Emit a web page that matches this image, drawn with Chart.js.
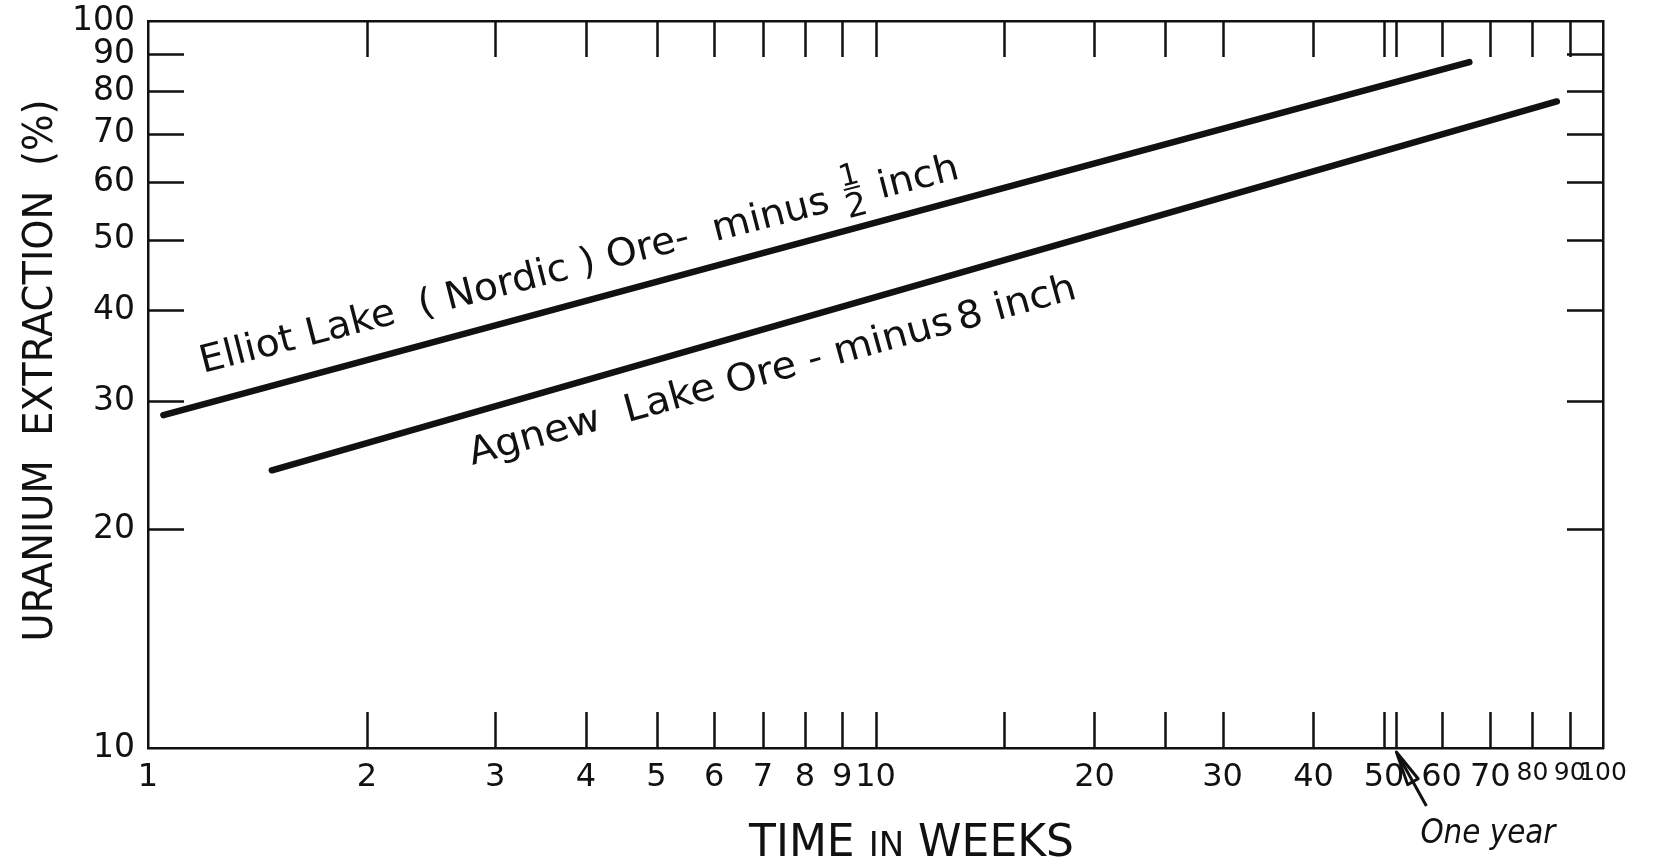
<!DOCTYPE html>
<html>
<head>
<meta charset="utf-8">
<title>Uranium extraction vs. time</title>
<script src="https://cdn.jsdelivr.net/npm/chart.js@4.4.1/dist/chart.umd.min.js"></script>
<style>
  html, body { margin: 0; padding: 0; background: #fff; }
  #wrap { width: 1657px; height: 865px; position: relative; }
</style>
</head>
<body>
<div id="wrap"><canvas id="chart"></canvas></div>
<script>
// ---- data ----------------------------------------------------------------
const weekTicks = [1, 2, 3, 4, 5, 6, 7, 8, 9, 10, 15, 20, 25, 30, 40, 50, 52, 60, 70, 80, 90, 100];
const weekLabels = [1, 2, 3, 4, 5, 6, 7, 8, 9, 10, 20, 30, 40, 50, 60, 70, 80, 90, 100];
const extractionTicks = [10, 20, 30, 40, 50, 60, 70, 80, 90, 100];
const oneYearWeeks = 52;

// Elliot Lake (Nordic) ore, minus 1/2 inch
const elliotWeeks = [1.05, 10, 65.5];
const elliotExtraction = [28.7, 52.8, 87.8];

// Agnew Lake ore, minus 8 inch
const agnewWeeks = [1.48, 10, 86.4];
const agnewExtraction = [24.1, 41.7, 77.5];

// ---- styling -------------------------------------------------------------
const INK = '#111';
const FONT = '"DejaVu Sans", "Liberation Sans", sans-serif';

const toPoints = (xs, ys) => xs.map((x, i) => ({ x, y: ys[i] }));

// Tick marks drawn inward from all four sides of the frame.
const innerTicks = {
  id: 'innerTicks',
  afterDatasetsDraw(chart) {
    const { ctx, chartArea: a, scales } = chart;
    const len = 36;
    ctx.save();
    ctx.strokeStyle = INK;
    ctx.lineWidth = 2.5;
    ctx.beginPath();
    ['x', 'x2'].forEach(id => {
      const s = scales[id];
      const edge = s.position === 'bottom' ? a.bottom : a.top;
      const dir = s.position === 'bottom' ? -1 : 1;
      s.ticks.forEach(t => {
        if (t.value <= s.min || t.value >= s.max) return;
        const px = Math.round(s.getPixelForValue(t.value)) + 0.5;
        ctx.moveTo(px, edge);
        ctx.lineTo(px, edge + dir * len);
      });
    });
    ['y', 'y2'].forEach(id => {
      const s = scales[id];
      const edge = s.position === 'left' ? a.left : a.right;
      const dir = s.position === 'left' ? 1 : -1;
      s.ticks.forEach(t => {
        if (t.value <= s.min || t.value >= s.max) return;
        const py = Math.round(s.getPixelForValue(t.value)) + 0.5;
        ctx.moveTo(edge, py);
        ctx.lineTo(edge + dir * len, py);
      });
    });
    ctx.stroke();
    ctx.restore();
  }
};

// Lettering that runs along each curve, anchored in data space.
const lineNotes = [
  {
    from: [1.19, 32.8], to: [13.1, 60.8], size: 38,
    parts: [
      { text: 'Elliot Lake  ( Nordic ) Ore-  minus' },
      { gap: 14 },
      { over: '1', under: '2', width: 22 },
      { gap: 14 },
      { text: 'inch' }
    ]
  },
  {
    from: [2.79, 24.5], to: [19.0, 41.6], size: 38,
    parts: [
      { text: 'Agnew  Lake Ore - minus' },
      { gap: 6 },
      { text: '8 inch' }
    ]
  }
];

function partWidth(ctx, p) {
  if (p.gap) return p.gap;
  if (p.over) return p.width;
  return ctx.measureText(p.text).width;
}

function drawRunningLabel(ctx, chart, note) {
  const sx = chart.scales.x, sy = chart.scales.y;
  const x0 = sx.getPixelForValue(note.from[0]), y0 = sy.getPixelForValue(note.from[1]);
  const x1 = sx.getPixelForValue(note.to[0]), y1 = sy.getPixelForValue(note.to[1]);
  const ang = Math.atan2(y1 - y0, x1 - x0);
  const len = Math.hypot(x1 - x0, y1 - y0);
  ctx.save();
  ctx.translate(x0, y0);
  ctx.rotate(ang);
  ctx.font = `${note.size}px ${FONT}`;
  let natural = 0;
  note.parts.forEach(p => { natural += partWidth(ctx, p); });
  ctx.scale(len / natural, 1);
  ctx.fillStyle = INK;
  ctx.textBaseline = 'alphabetic';
  let cx = 0;
  note.parts.forEach(p => {
    const w = partWidth(ctx, p);
    if (p.over) {
      const mid = cx + w / 2;
      ctx.save();
      ctx.textAlign = 'center';
      ctx.font = `30px ${FONT}`;
      ctx.fillText(p.over, mid, -21);
      ctx.fillRect(mid - 8, -18.5, 16, 2);
      ctx.font = `33px ${FONT}`;
      ctx.fillText(p.under, mid, 11);
      ctx.restore();
    } else if (p.text) {
      ctx.textAlign = 'left';
      ctx.fillText(p.text, cx, 0);
    }
    cx += w;
  });
  ctx.restore();
}

function fitText(ctx, text, x, y, width) {
  const w = ctx.measureText(text).width;
  ctx.save();
  ctx.translate(x, y);
  ctx.scale(width / w, 1);
  ctx.fillText(text, 0, 0);
  ctx.restore();
}

const lettering = {
  id: 'lettering',
  afterDraw(chart) {
    const { ctx, chartArea: a, scales } = chart;
    ctx.save();
    ctx.fillStyle = INK;
    ctx.strokeStyle = INK;

    // curve labels
    lineNotes.forEach(n => drawRunningLabel(ctx, chart, n));

    // horizontal axis title, with the small "IN"
    const pieces = [
      { t: 'TIME ', size: 44 },
      { t: 'IN', size: 34 },
      { t: ' WEEKS', size: 44 }
    ];
    let total = 0;
    pieces.forEach(p => { ctx.font = `${p.size}px ${FONT}`; p.w = ctx.measureText(p.t).width; total += p.w; });
    const titleCenter = (a.left + a.right) / 2 + 36;
    let tx = titleCenter - total / 2;
    const baseY = a.bottom + 108;
    ctx.textAlign = 'left';
    ctx.textBaseline = 'alphabetic';
    pieces.forEach(p => { ctx.font = `${p.size}px ${FONT}`; ctx.fillText(p.t, tx, baseY); tx += p.w; });

    // vertical axis title
    ctx.save();
    ctx.translate(a.left - 106, (a.top + a.bottom) / 2 - 14);
    ctx.rotate(-Math.PI / 2);
    ctx.font = `40px ${FONT}`;
    ctx.textBaseline = 'middle';
    const yt = 'URANIUM  EXTRACTION  (%)';
    const ytw = 542;
    fitText(ctx, yt, -ytw / 2, 0, ytw);
    ctx.restore();

    // "One year" pointer at 52 weeks
    const px = scales.x.getPixelForValue(oneYearWeeks);
    const tipY = a.bottom + 4;
    const tailX = px + 30, tailY = a.bottom + 58;
    const ux = (tailX - px), uy = (tailY - tipY);
    const ul = Math.hypot(ux, uy);
    const dx = ux / ul, dy = uy / ul;
    const headLen = 34, headHalf = 6;
    const bx = px + dx * headLen, by = tipY + dy * headLen;
    ctx.lineWidth = 3;
    ctx.lineJoin = 'round';
    ctx.beginPath();
    ctx.moveTo(px, tipY);
    ctx.lineTo(bx - dy * headHalf, by + dx * headHalf);
    ctx.lineTo(bx + dy * headHalf, by - dx * headHalf);
    ctx.closePath();
    ctx.stroke();
    ctx.beginPath();
    ctx.moveTo(px + dx * 8, tipY + dy * 8);
    ctx.lineTo(tailX, tailY);
    ctx.stroke();

    ctx.font = `italic 34px ${FONT}`;
    ctx.textBaseline = 'alphabetic';
    ctx.textAlign = 'left';
    fitText(ctx, 'One year', px + 24, a.bottom + 95, 135);

    ctx.restore();
  }
};

const frameBorder = { display: true, color: INK, width: 2.5 };

// The frame is placed exactly; label overhang is allowed into the margins.
const noOverhang = s => { s.paddingTop = 0; s.paddingBottom = 0; s.paddingLeft = 0; s.paddingRight = 0; };

new Chart(document.getElementById('chart'), {
  type: 'line',
  data: {
    datasets: [
      {
        label: 'Elliot Lake (Nordic) Ore - minus 1/2 inch',
        data: toPoints(elliotWeeks, elliotExtraction),
        borderColor: INK,
        borderWidth: 6.5,
        borderCapStyle: 'round',
        borderJoinStyle: 'round',
        pointRadius: 0,
        tension: 0,
        fill: false
      },
      {
        label: 'Agnew Lake Ore - minus 8 inch',
        data: toPoints(agnewWeeks, agnewExtraction),
        borderColor: INK,
        borderWidth: 6.5,
        borderCapStyle: 'round',
        borderJoinStyle: 'round',
        pointRadius: 0,
        tension: 0,
        fill: false
      }
    ]
  },
  options: {
    responsive: true,
    maintainAspectRatio: false,
    animation: false,
    layout: { padding: 0 },
    plugins: {
      legend: { display: false },
      tooltip: { enabled: false }
    },
    scales: {
      x: {
        type: 'logarithmic',
        position: 'bottom',
        min: 1,
        max: 100,
        afterBuildTicks: s => { s.ticks = weekTicks.map(v => ({ value: v })); },
        afterFit: s => { s.height = 117; noOverhang(s); },
        grid: { display: false, drawTicks: false },
        border: frameBorder,
        ticks: {
          autoSkip: false,
          maxRotation: 0,
          minRotation: 0,
          padding: 10,
          color: INK,
          font: c => ({ family: FONT, size: (c.tick && c.tick.value >= 80) ? 25 : 32 }),
          callback: v => weekLabels.includes(v) ? String(v) : ''
        }
      },
      x2: {
        type: 'logarithmic',
        position: 'top',
        min: 1,
        max: 100,
        afterBuildTicks: s => { s.ticks = weekTicks.map(v => ({ value: v })); },
        afterFit: s => { s.height = 21; noOverhang(s); },
        grid: { display: false, drawTicks: false },
        border: frameBorder,
        ticks: { display: false }
      },
      y: {
        type: 'logarithmic',
        position: 'left',
        min: 10,
        max: 100,
        afterBuildTicks: s => { s.ticks = extractionTicks.map(v => ({ value: v })); },
        afterFit: s => { s.width = 148; noOverhang(s); },
        grid: { display: false, drawTicks: false },
        border: frameBorder,
        ticks: {
          autoSkip: false,
          padding: 13,
          color: INK,
          font: { family: FONT, size: 33 },
          callback: v => extractionTicks.includes(v) ? String(v) : ''
        }
      },
      y2: {
        type: 'logarithmic',
        position: 'right',
        min: 10,
        max: 100,
        afterBuildTicks: s => { s.ticks = extractionTicks.map(v => ({ value: v })); },
        afterFit: s => { s.width = 54; noOverhang(s); },
        grid: { display: false, drawTicks: false },
        border: frameBorder,
        ticks: { display: false }
      }
    }
  },
  plugins: [innerTicks, lettering]
});
</script>
</body>
</html>
